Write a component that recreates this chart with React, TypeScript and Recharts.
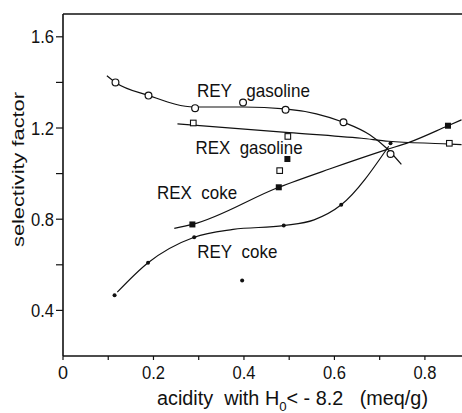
import React from 'react';
import { ComposedChart, Line, Scatter, XAxis, YAxis, ReferenceLine } from 'recharts';

// ---- axis ticks ----
const xTicks = [0, 0.1, 0.2, 0.3, 0.4, 0.5, 0.6, 0.7, 0.8];
const xLabeledTicks = [0, 0.2, 0.4, 0.6, 0.8];
const yTicks = [0.4, 0.6, 0.8, 1.0, 1.2, 1.4, 1.6];
const yLabeledTicks = [0.4, 0.8, 1.2, 1.6];

// ---- measured points ----
const reyGasolineX = [0.116, 0.189, 0.292, 0.398, 0.492, 0.62, 0.724];
const reyGasolineY = [1.4, 1.342, 1.287, 1.312, 1.28, 1.225, 1.086];
const rexGasolineX = [0.288, 0.497, 0.479, 0.854];
const rexGasolineY = [1.222, 1.163, 1.013, 1.133];
const rexCokeX = [0.286, 0.477, 0.496, 0.851];
const rexCokeY = [0.777, 0.94, 1.064, 1.21];
const reyCokeX = [0.114, 0.188, 0.29, 0.396, 0.488, 0.615, 0.724];
const reyCokeY = [0.466, 0.609, 0.721, 0.531, 0.772, 0.863, 1.133];

// ---- hand-drawn trend curves ----
const reyGasolineCurveX = [0.097, 0.116, 0.189, 0.29, 0.4, 0.49, 0.56, 0.62, 0.678, 0.716, 0.748];
const reyGasolineCurveY = [1.429, 1.4, 1.343, 1.292, 1.292, 1.284, 1.262, 1.225, 1.17, 1.11, 1.04];
const rexGasolineCurveX = [0.253, 0.5, 0.66, 0.72, 0.84, 0.881];
const rexGasolineCurveY = [1.218, 1.18, 1.155, 1.142, 1.131, 1.127];
const rexCokeCurveX = [0.246, 0.286, 0.477, 0.589, 0.715, 0.765, 0.851, 0.881];
const rexCokeCurveY = [0.76, 0.777, 0.94, 1.02, 1.105, 1.137, 1.21, 1.236];
const reyCokeCurveX = [0.12, 0.188, 0.29, 0.376, 0.488, 0.555, 0.615, 0.72];
const reyCokeCurveY = [0.48, 0.609, 0.721, 0.755, 0.772, 0.797, 0.863, 1.12];

// ---- annotations (anchor = left edge, cap centre) ----
const annotationText = ['REY\u00A0\u00A0\u00A0gasoline', 'REX\u00A0\u00A0gasoline', 'REX\u00A0\u00A0coke', 'REY\u00A0\u00A0coke'];
const annotationX = [0.296, 0.293, 0.208, 0.297];
const annotationY = [1.367, 1.114, 0.917, 0.658];

const xTitleParts = ['acidity\u00A0\u00A0with\u00A0H', '0', '<\u00A0-\u00A08.2\u00A0\u00A0\u00A0(meq/g)'];
const yTitle = 'selectivity factor';

const zip = (xs: number[], ys: number[]) => xs.map((x, i) => ({ x, y: ys[i] }));

const FONT = "'Liberation Sans', Arial, sans-serif";
const INK = '#111';
const annotationWidths = [113, 107, 80, 80];

const annotations = annotationText.map((t, i) => ({ x: annotationX[i], y: annotationY[i], text: t, idx: i }));

const near = (list: number[], v: number) => list.some((t) => Math.abs(t - v) < 1e-6);

const YTick = (props: any) => {
  const { x, y, payload } = props;
  const v = payload.value;
  if (!near(yLabeledTicks, v)) return <g />;
  return (
    <text x={x} y={y} dy={6.5} textAnchor="end" fontSize={18} fontFamily={FONT} fill={INK}
      textLength={23} lengthAdjust="spacingAndGlyphs">
      {v.toFixed(1)}
    </text>
  );
};

const XTick = (props: any) => {
  const { x, y, payload } = props;
  const v = payload.value;
  if (!near(xLabeledTicks, v)) return <g />;
  const s = v === 0 ? '0' : v.toFixed(1);
  return (
    <text x={x} y={y + 19} textAnchor="middle" fontSize={18} fontFamily={FONT} fill={INK}
      {...(s.length > 1 ? { textLength: 23, lengthAdjust: 'spacingAndGlyphs' } : {})}>
      {s}
    </text>
  );
};

const XTitle = (props: any) => {
  const vb = props.viewBox || { x: 63, y: 356 };
  return (
    <text x={vb.x + 94} y={vb.y + 49} fontSize={19.5} fontFamily={FONT} fill={INK}
      textLength={271} lengthAdjust="spacingAndGlyphs">
      {xTitleParts[0]}
      <tspan dy={6} fontSize={13}>{xTitleParts[1]}</tspan>
      <tspan dy={-6}>{xTitleParts[2]}</tspan>
    </text>
  );
};

const YTitle = (props: any) => {
  const vb = props.viewBox || { x: 0, y: 14 };
  const cx = vb.x + 23.6;
  const cy = 169.5;
  return (
    <text transform={`translate(${cx},${cy}) rotate(-90)`} x={0} y={0} textAnchor="middle"
      fontSize={16} fontFamily={FONT} fill={INK} textLength={155} lengthAdjust="spacingAndGlyphs">
      {yTitle}
    </text>
  );
};

const OpenCircle = (p: any) => <circle cx={p.cx} cy={p.cy} r={3.4} fill="#fff" stroke={INK} strokeWidth={1.2} />;
const OpenSquare = (p: any) => <rect x={p.cx - 2.8} y={p.cy - 2.8} width={5.6} height={5.6} fill="#fff" stroke={INK} strokeWidth={1.1} />;
const FilledSquare = (p: any) => <rect x={p.cx - 3} y={p.cy - 3} width={6} height={6} fill={INK} />;
const SmallDot = (p: any) => <circle cx={p.cx} cy={p.cy} r={2} fill={INK} />;
const AnnotationShape = (p: any) => (
  <text x={p.cx} y={p.cy} dy={6.8} fontSize={19} fontFamily={FONT} fill={INK}
    textLength={annotationWidths[p.payload.idx]} lengthAdjust="spacingAndGlyphs">
    {p.payload.text}
  </text>
);

const lineProps = {
  type: 'monotone' as const,
  dataKey: 'y',
  stroke: INK,
  strokeWidth: 1.2,
  dot: false,
  activeDot: false,
  isAnimationActive: false,
};

export default function App() {
  return (
    <div style={{ position: 'absolute', left: 0, top: 0, width: 462, height: 413, background: '#fff' }}>
      <ComposedChart width={462} height={413} margin={{ top: 14, right: 0, bottom: 0, left: 0 }}>
        <XAxis type="number" dataKey="x" domain={[0, 0.882]} ticks={xTicks} allowDataOverflow
          height={57} tickSize={4} tickMargin={0} tick={<XTick />} interval={0}
          axisLine={{ stroke: INK, strokeWidth: 1.6 }} tickLine={{ stroke: INK, strokeWidth: 1.2 }}
          label={<XTitle />} />
        <YAxis type="number" dataKey="y" domain={[0.2, 1.7]} ticks={yTicks} allowDataOverflow
          width={63} tickSize={7} tickMargin={2} tick={<YTick />} interval={0}
          axisLine={{ stroke: INK, strokeWidth: 1.6 }} tickLine={{ stroke: INK, strokeWidth: 1.2 }}
          label={<YTitle />} />
        <ReferenceLine y={1.7} stroke={INK} strokeWidth={1.6} />

        <Line {...lineProps} data={zip(reyGasolineCurveX, reyGasolineCurveY)} />
        <Line {...lineProps} data={zip(rexGasolineCurveX, rexGasolineCurveY)} />
        <Line {...lineProps} data={zip(rexCokeCurveX, rexCokeCurveY)} />
        <Line {...lineProps} data={zip(reyCokeCurveX, reyCokeCurveY)} />

        <Scatter data={zip(reyGasolineX, reyGasolineY)} shape={OpenCircle} isAnimationActive={false} />
        <Scatter data={zip(rexGasolineX, rexGasolineY)} shape={OpenSquare} isAnimationActive={false} />
        <Scatter data={zip(rexCokeX, rexCokeY)} shape={FilledSquare} isAnimationActive={false} />
        <Scatter data={zip(reyCokeX, reyCokeY)} shape={SmallDot} isAnimationActive={false} />
        <Scatter data={annotations} shape={AnnotationShape} isAnimationActive={false} />
      </ComposedChart>
    </div>
  );
}
